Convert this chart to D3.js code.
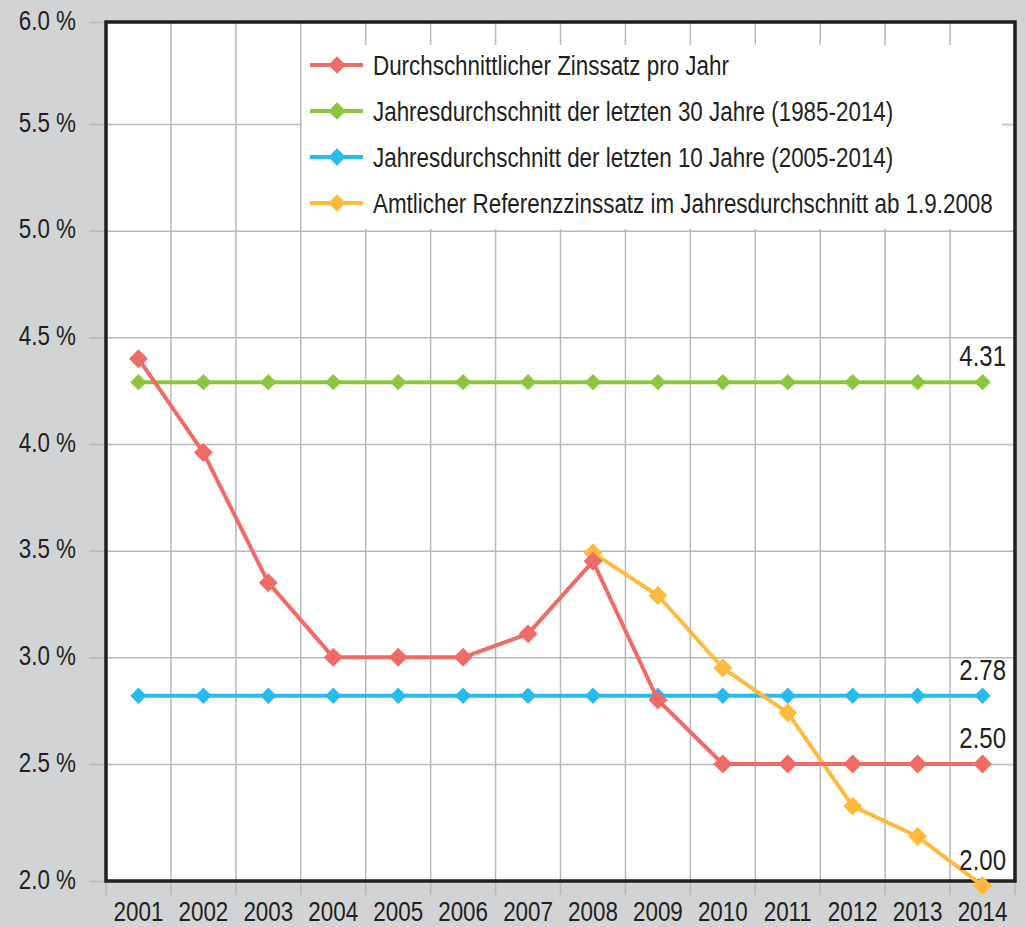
<!DOCTYPE html>
<html>
<head>
<meta charset="utf-8">
<script src="https://cdn.jsdelivr.net/npm/d3@7"></script>
<style>
  body { margin: 0; background: #d1d3d4; }
  svg { display: block; }
  text { font-family: "Liberation Sans", Arial, sans-serif; fill: #231f20; }
</style>
</head>
<body>
<div id="chart"></div>
<script>
var years = [2001, 2002, 2003, 2004, 2005, 2006, 2007, 2008, 2009, 2010, 2011, 2012, 2013, 2014];
var yTicks = [2.0, 2.5, 3.0, 3.5, 4.0, 4.5, 5.0, 5.5, 6.0];

// Durchschnittlicher Zinssatz pro Jahr
var avgRate = [4.40, 3.96, 3.35, 3.00, 3.00, 3.00, 3.11, 3.45, 2.80, 2.50, 2.50, 2.50, 2.50, 2.50];
// Jahresdurchschnitt der letzten 30 Jahre
var avg30 = [4.29, 4.29, 4.29, 4.29, 4.29, 4.29, 4.29, 4.29, 4.29, 4.29, 4.29, 4.29, 4.29, 4.29];
// Jahresdurchschnitt der letzten 10 Jahre
var avg10 = [2.82, 2.82, 2.82, 2.82, 2.82, 2.82, 2.82, 2.82, 2.82, 2.82, 2.82, 2.82, 2.82, 2.82];
// Amtlicher Referenzzinssatz (ab 2008)
var refYears = [2008, 2009, 2010, 2011, 2012, 2013, 2014];
var refRate = [3.49, 3.29, 2.95, 2.74, 2.32, 2.19, 1.98];

var seriesNames = [
    "Durchschnittlicher Zinssatz pro Jahr",
    "Jahresdurchschnitt der letzten 30 Jahre (1985-2014)",
    "Jahresdurchschnitt der letzten 10 Jahre (2005-2014)",
    "Amtlicher Referenzzinssatz im Jahresdurchschnitt ab 1.9.2008"
];
var seriesColors = ["#f06b66", "#8cc63f", "#27bbee", "#fdba3c"];
var endLabels = ["2.50", "4.31", "2.78", "2.00"];

var width = 1026, height = 927;
var margin = { top: 22, right: 11, bottom: 46, left: 106 };
var plotW = width - margin.left - margin.right,
    plotH = height - margin.top - margin.bottom;
var squeeze = 0.8;   // no narrow font here, so squeeze the normal one

// scale text horizontally around its own x
function narrow(sel) {
    sel.each(function () {
        var t = d3.select(this);
        var tx = +t.attr("x") || 0;
        t.attr("x", tx / squeeze).attr("transform", "scale(" + squeeze + ",1)");
    });
}

var x = d3.scaleBand().domain(years).range([0, plotW]).padding(0);
// the source chart stretches the outer half-steps a little
var y = d3.scaleLinear().domain([2, 2.5, 5.5, 6]).range([plotH, 742, 102, 0]);

var svg = d3.select("#chart").append("svg")
    .attr("width", width)
    .attr("height", height)
    .append("g")
    .attr("transform", "translate(" + margin.left + "," + margin.top + ")");

svg.append("rect")
    .attr("width", plotW).attr("height", plotH)
    .attr("fill", "#fff");

// horizontal grid
svg.append("g")
    .attr("class", "grid")
    .call(d3.axisLeft(y).tickValues(yTicks).tickSize(-plotW).tickFormat(""))
    .call(function (g) { g.select(".domain").remove(); })
    .selectAll("line").attr("stroke", "#b7b8ba").attr("stroke-width", 1.5);

// vertical grid at the band edges
var edges = years.map(function (d) { return x(d); }).concat([plotW]);
svg.append("g").selectAll("line")
    .data(edges).enter().append("line")
    .attr("x1", function (d) { return d; }).attr("x2", function (d) { return d; })
    .attr("y1", 0).attr("y2", plotH + 14)
    .attr("stroke", "#b7b8ba").attr("stroke-width", 1.5);

// y axis labels
svg.append("g")
    .call(d3.axisLeft(y).tickValues(yTicks).tickSize(17).tickPadding(13)
        .tickFormat(function (d) { return d.toFixed(1) + " %"; }))
    .call(function (g) {
        g.select(".domain").remove();
        g.selectAll("line").attr("stroke", "#b7b8ba").attr("stroke-width", 1.5);
        g.selectAll("text").style("font-size", "28px").attr("dy", "0.26em").call(narrow);
    });

// x axis labels
svg.append("g")
    .attr("transform", "translate(0," + plotH + ")")
    .call(d3.axisBottom(x).tickSize(0).tickPadding(20))
    .call(function (g) {
        g.select(".domain").remove();
        g.selectAll("text").style("font-size", "28px").call(narrow);
    });

// frame
svg.append("rect")
    .attr("width", plotW).attr("height", plotH)
    .attr("fill", "none").attr("stroke", "#231f20").attr("stroke-width", 3.5);

// legend
var legend = svg.append("g").attr("transform", "translate(196,23)");
legend.append("rect")
    .attr("width", 700).attr("height", 184)
    .attr("fill", "#fff");

var diamond = d3.symbol().type(d3.symbolSquare);
var line = d3.line()
    .x(function (d) { return x(d[0]) + x.bandwidth() / 2; })
    .y(function (d) { return y(d[1]); });

var series = [
    { values: d3.zip(years, avgRate), size: 180 },
    { values: d3.zip(years, avg30), size: 135 },
    { values: d3.zip(years, avg10), size: 135 },
    { values: d3.zip(refYears, refRate), size: 180 }
];

var items = legend.selectAll(".item")
    .data(seriesNames).enter().append("g")
    .attr("transform", function (d, i) { return "translate(0," + (20 + i * 46) + ")"; });
items.append("line")
    .attr("x1", 8).attr("x2", 61)
    .attr("stroke", function (d, i) { return seriesColors[i]; })
    .attr("stroke-width", 4);
items.append("path")
    .attr("d", diamond.size(150))
    .attr("transform", "translate(35,0) rotate(45)")
    .attr("fill", function (d, i) { return seriesColors[i]; });
items.append("text")
    .attr("x", 71).attr("y", 10)
    .style("font-size", "28px")
    .text(function (d) { return d; })
    .call(narrow);

// lines and markers; 10 and 30 year averages first, then the annual rates
[1, 2, 3, 0].forEach(function (i) {
    var s = series[i];
    svg.append("path")
        .datum(s.values)
        .attr("d", line)
        .attr("fill", "none")
        .attr("stroke", seriesColors[i])
        .attr("stroke-width", 4)
        .attr("stroke-linejoin", "round");
    svg.append("g").selectAll("path")
        .data(s.values).enter().append("path")
        .attr("d", diamond.size(s.size))
        .attr("transform", function (d) {
            return "translate(" + (x(d[0]) + x.bandwidth() / 2) + "," + y(d[1]) + ") rotate(45)";
        })
        .attr("fill", seriesColors[i]);
});

// end labels
var labelY = [avgRate[13], avg30[13], avg10[13], refRate[6]];
svg.append("g").selectAll("text")
    .data(endLabels).enter().append("text")
    .attr("x", plotW - 9)
    .attr("y", function (d, i) { return y(labelY[i]) - 16; })
    .attr("text-anchor", "end")
    .style("font-size", "30px")
    .text(function (d) { return d; })
    .call(narrow);
</script>
</body>
</html>
